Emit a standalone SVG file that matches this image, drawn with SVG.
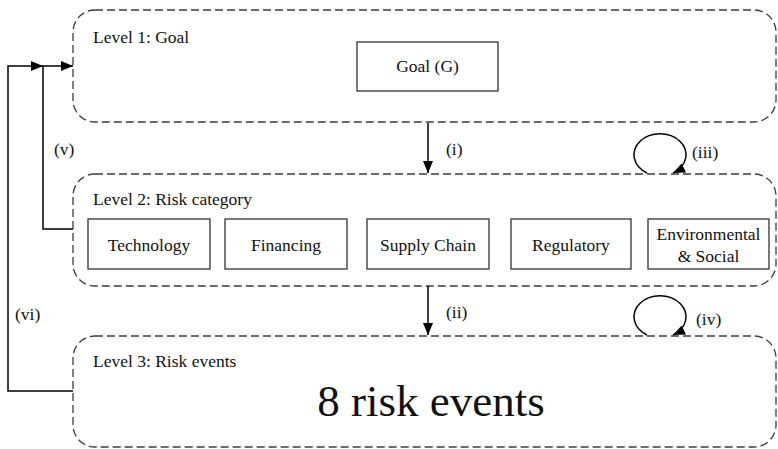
<svg xmlns="http://www.w3.org/2000/svg" width="778" height="449" viewBox="0 0 778 449">
<defs>
<marker id="ah" viewBox="0 0 12 10" refX="12" refY="5" markerWidth="12" markerHeight="10" markerUnits="userSpaceOnUse" orient="auto">
<path d="M0,0 L12,5 L0,10 Z" fill="#000"/>
</marker>
</defs>
<style>
.lvl{fill:none;stroke:#3c3c3c;stroke-width:1.3;stroke-dasharray:8 4}
.box{fill:#fff;stroke:#333;stroke-width:1.3}
.t{font-family:"Liberation Serif","Times New Roman",Times,"Noto Serif","DejaVu Serif",serif;font-size:17.5px;fill:#111}
.c{text-anchor:middle}
.big{font-size:45px}
.ln{fill:none;stroke:#000;stroke-width:1.5}
</style>
<rect width="778" height="449" fill="#fff"/>
<g id="level1">
<rect class="lvl" x="73" y="10" width="703" height="112" rx="22" ry="22"/>
<text class="t" x="93" y="43">Level 1: Goal</text>
</g>
<g id="goal">
<rect class="box" x="357" y="42" width="141" height="49"/>
<text class="t c" x="427.5" y="72">Goal (G)</text>
</g>
<g id="level2">
<rect class="lvl" x="73" y="174" width="703" height="112" rx="22" ry="22"/>
<text class="t" x="93" y="205">Level 2: Risk category</text>
</g>
<g id="technology">
<rect class="box" x="88" y="219" width="122" height="50"/>
<text class="t c" x="149" y="251">Technology</text>
</g>
<g id="financing">
<rect class="box" x="225" y="219" width="122" height="50"/>
<text class="t c" x="286" y="251">Financing</text>
</g>
<g id="supply">
<rect class="box" x="367" y="219" width="122" height="50"/>
<text class="t c" x="428" y="251">Supply Chain</text>
</g>
<g id="regulatory">
<rect class="box" x="511" y="219" width="120" height="50"/>
<text class="t c" x="571" y="251">Regulatory</text>
</g>
<g id="environmental">
<rect class="box" x="648" y="219" width="121" height="50"/>
<text class="t c" x="708.5" y="240">Environmental</text>
<text class="t c" x="708.5" y="262">&amp; Social</text>
</g>
<g id="level3">
<rect class="lvl" x="73" y="336" width="703" height="111" rx="22" ry="22"/>
<text class="t" x="93" y="367">Level 3: Risk events</text>
<text class="t c big" x="431" y="416">8 risk events</text>
</g>
<g id="connectors">
<path class="ln" d="M428,123 L428,173" marker-end="url(#ah)"/>
<text class="t" x="446" y="155">(i)</text>
<path class="ln" d="M428,286 L428,335" marker-end="url(#ah)"/>
<text class="t" x="446" y="318">(ii)</text>
<path class="ln" d="M647,173 A26,21 0 1 1 673,173" marker-end="url(#ah)"/>
<text class="t" x="692" y="158">(iii)</text>
<path class="ln" d="M647,335 A26,21 0 1 1 673,335" marker-end="url(#ah)"/>
<text class="t" x="696" y="325">(iv)</text>
<path class="ln" d="M73,229 L43,229 L43,66 L73,66" marker-end="url(#ah)"/>
<text class="t" x="54" y="155">(v)</text>
<path class="ln" d="M73,391 L8,391 L8,66 L43,66" marker-end="url(#ah)"/>
<text class="t" x="15" y="320">(vi)</text>
</g>
</svg>
